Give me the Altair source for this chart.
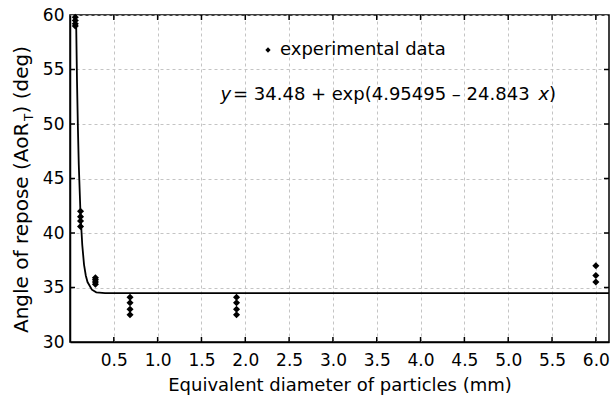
import altair as alt
import pandas as pd

# ---- data ----
pt_x = [0.06, 0.06, 0.06, 0.06,
        0.12, 0.12, 0.12, 0.12,
        0.29, 0.29, 0.29, 0.29,
        0.685, 0.685, 0.685, 0.685,
        1.9, 1.9, 1.9, 1.9,
        6.0, 6.0, 6.0]
pt_y = [59.8, 59.5, 59.2, 59.0,
        42.0, 41.5, 41.1, 40.6,
        35.9, 35.7, 35.5, 35.3,
        34.1, 33.6, 33.0, 32.5,
        34.1, 33.6, 33.0, 32.5,
        37.0, 36.1, 35.5]

# fitted curve
fit_x = [0.069, 0.08, 0.09, 0.10, 0.12, 0.14, 0.16, 0.18, 0.20, 0.25, 0.30, 0.40, 6.15]
fit_y = [60.0, 53.9, 49.7, 46.3, 41.7, 38.9, 37.1, 36.1, 35.5, 34.8, 34.56, 34.49, 34.48]

x_ticks = [0.5, 1.0, 1.5, 2.0, 2.5, 3.0, 3.5, 4.0, 4.5, 5.0, 5.5, 6.0]
y_ticks = [30, 35, 40, 45, 50, 55, 60]
y_inner = [35, 40, 45, 50, 55]

W, H = 539, 327
FONT = "DejaVu Sans"

pts = pd.DataFrame({"x": pt_x, "y": pt_y})
fit = pd.DataFrame({"x": fit_x, "y": fit_y})
xt = pd.DataFrame({"x": x_ticks})
yt = pd.DataFrame({"y": y_inner})
one = pd.DataFrame({"a": [0]})

xscale = alt.Scale(domain=[0, 6.15], nice=False, zero=False)
yscale = alt.Scale(domain=[30, 60], nice=False, zero=False)
xaxis = alt.Axis(values=x_ticks, format=".1f", title="Equivalent diameter of particles (mm)",
                 ticks=False, labelPadding=10, titlePadding=8, grid=True)
yaxis = alt.Axis(values=y_ticks, title="", ticks=False, labelPadding=6, grid=True)
XE = alt.X("x:Q", scale=xscale, axis=xaxis)
YE = alt.Y("y:Q", scale=yscale, axis=yaxis)

points = alt.Chart(pts).mark_point(shape="diamond", filled=True, color="black",
                                   size=50, opacity=1).encode(x=XE, y=YE)

line = alt.Chart(fit).mark_line(color="black", strokeWidth=1.8, clip=True).encode(x=XE, y=YE)

tick_b = alt.Chart(xt).mark_rule(color="black", strokeWidth=1.5).encode(
    x=XE, y=alt.value(H), y2=alt.value(H - 5))
tick_t = alt.Chart(xt).mark_rule(color="black", strokeWidth=1.5).encode(
    x=XE, y=alt.value(0), y2=alt.value(5))
tick_l = alt.Chart(yt).mark_rule(color="black", strokeWidth=1.5).encode(
    y=YE, x=alt.value(0), x2=alt.value(5))
tick_r = alt.Chart(yt).mark_rule(color="black", strokeWidth=1.5).encode(
    y=YE, x=alt.value(W), x2=alt.value(W - 5))

def txt(s, x, y, size=18, style="normal", align="left", angle=0, baseline="alphabetic"):
    return alt.Chart(one).mark_text(text=s, font=FONT, fontSize=size, fontStyle=style,
                                    align=align, baseline=baseline, angle=angle,
                                    color="black").encode(x=alt.value(x), y=alt.value(y))

leg_marker = alt.Chart(one).mark_point(shape="diamond", filled=True, color="black",
                                       size=28, opacity=1).encode(
    x=alt.value(198), y=alt.value(35))
leg_text = txt("experimental data", 210, 40)

eq_y = txt("y", 150.5, 85, style="italic")
eq_mid = txt(" = 34.48 + exp(4.95495 \u2013 24.843", 163, 85)
eq_x = txt("x", 468.5, 85, style="italic")
eq_end = txt(")", 479, 85)

yt1 = txt("Angle of repose (AoR", -42, 318, size=20, angle=270)
yt2 = txt("T", -37, 106, size=12, angle=270)
yt3 = txt(") (deg)", -42, 98.5, size=20, angle=270)

chart = alt.layer(
    points, line, tick_b, tick_t, tick_l, tick_r,
    leg_marker, leg_text, eq_y, eq_mid, eq_x, eq_end, yt1, yt2, yt3
).properties(
    width=W, height=H, autosize="none",
    padding={"left": 70, "top": 15, "right": 2, "bottom": 59},
).configure_view(
    stroke="black", strokeWidth=1.5
).configure_axis(
    domainColor="black", domainWidth=1.5,
    gridColor="#c4c4c4", gridDash=[3, 3], gridWidth=1,
    labelFont=FONT, labelFontSize=17, labelColor="black",
    titleFont=FONT, titleFontSize=18, titleColor="black", titleFontWeight="normal",
)

chart.save("out.html", embed_options={"renderer": "svg", "actions": False})
